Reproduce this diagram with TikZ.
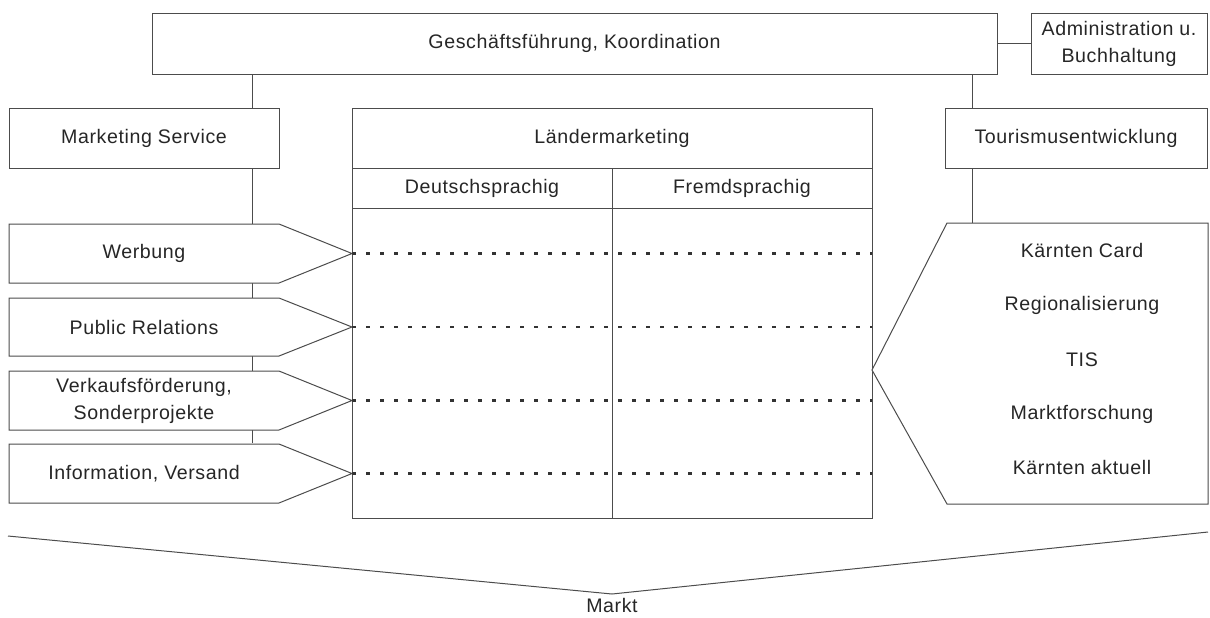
\documentclass[tikz,border=0pt]{standalone}
\usepackage{fontspec}
\setmainfont{Liberation Sans}[LetterSpace=3]
\begin{document}
\begin{tikzpicture}[x=0.5pt,y=-0.5pt,
  ln/.style={draw=black!70,line width=0.5pt},
  box/.style={ln,rectangle,inner sep=0pt,align=center,text=black!85,font=\fontsize{9.8}{13.5}\selectfont},
  lbl/.style={inner sep=0pt,align=center,text=black!85,font=\fontsize{9.8}{13.5}\selectfont},
  dots/.style={draw=black!80,line width=1.2pt,dash pattern=on 2.2pt off 4.8pt}]
\useasboundingbox (0,0) rectangle (1210,617);
% top
\node[box,minimum width=845*0.5pt,minimum height=61*0.5pt] (gf) at (574.5,43.5) {Geschäftsführung, Koordination};
\node[box,minimum width=176*0.5pt,minimum height=61*0.5pt] (adm) at (1119,43.5) {Administration u.\\Buchhaltung};
\draw[ln] (gf.east) -- (adm.west);
% second row
\node[box,minimum width=270*0.5pt,minimum height=60*0.5pt] (ms) at (144,138) {Marketing Service};
\node[box,minimum width=262*0.5pt,minimum height=60*0.5pt] (te) at (1076,138) {Tourismusentwicklung};
% Ländermarketing table
\node[box,minimum width=520*0.5pt,minimum height=410*0.5pt] (lm) at (612,313) {};
\coordinate (h1l) at (352,168); \coordinate (h1r) at (872,168);
\coordinate (h2l) at (352,208); \coordinate (h2r) at (872,208);
\coordinate (dvt) at (612,168); \coordinate (dvb) at (612,518);
\draw[ln] (h1l) -- (h1r) (h2l) -- (h2r) (dvt) -- (dvb);
\node[lbl] (lmt) at (612,138) {Ländermarketing};
\node[lbl] (de) at (482,188) {Deutschsprachig};
\node[lbl] (fr) at (742,188) {Fremdsprachig};
% vertical connectors
\coordinate (vl) at (252,443);
\coordinate (vr) at (972,223);
\draw[ln] (gf.south -| vl) -- (ms.north -| vl);
\draw[ln] (ms.south -| vl) -- (vl);
\draw[ln] (gf.south -| vr) -- (te.north -| vr);
\draw[ln] (te.south -| vr) -- (vr);
% left pointer shapes
\foreach \n/\t/\b/\txt in {w/224/283/Werbung, pr/298/356/Public Relations, vf/371/430/{Verkaufsförderung,\\Sonderprojekte}, inf/444/503/{Information, Versand}}{
  \coordinate (\n tip) at (352,{(\t+\b)/2});
  \draw[ln,fill=white] (9,\t) -- (279,\t) -- (\n tip) -- (279,\b) -- (9,\b) -- cycle;
  \node[lbl] (\n) at (144,{(\t+\b)/2}) {\txt};
  \coordinate (\n end) at (872,{(\t+\b)/2});
  \draw[dots] (\n tip) -- (\n end);
}
% right pointer shape
\coordinate (rtip) at (872,370);
\draw[ln,fill=white] (947,223) -- (1208,223) -- (1208,504) -- (947,504) -- (rtip) -- cycle;
\node[lbl] (kc) at (1082,250) {Kärnten Card};
\node[lbl] (rg) at (1082,305) {Regionalisierung};
\node[lbl] (tis) at (1082,360) {TIS};
\node[lbl] (mf) at (1082,414) {Marktforschung};
\node[lbl] (ka) at (1082,467) {Kärnten aktuell};
% Markt
\coordinate (mL) at (8,536);
\coordinate (mV) at (612,594);
\coordinate (mR) at (1208,532);
\draw[ln] (mL) -- (mV) -- (mR);
\node[lbl] (markt) at (612,605) {Markt};
\end{tikzpicture}
\end{document}
